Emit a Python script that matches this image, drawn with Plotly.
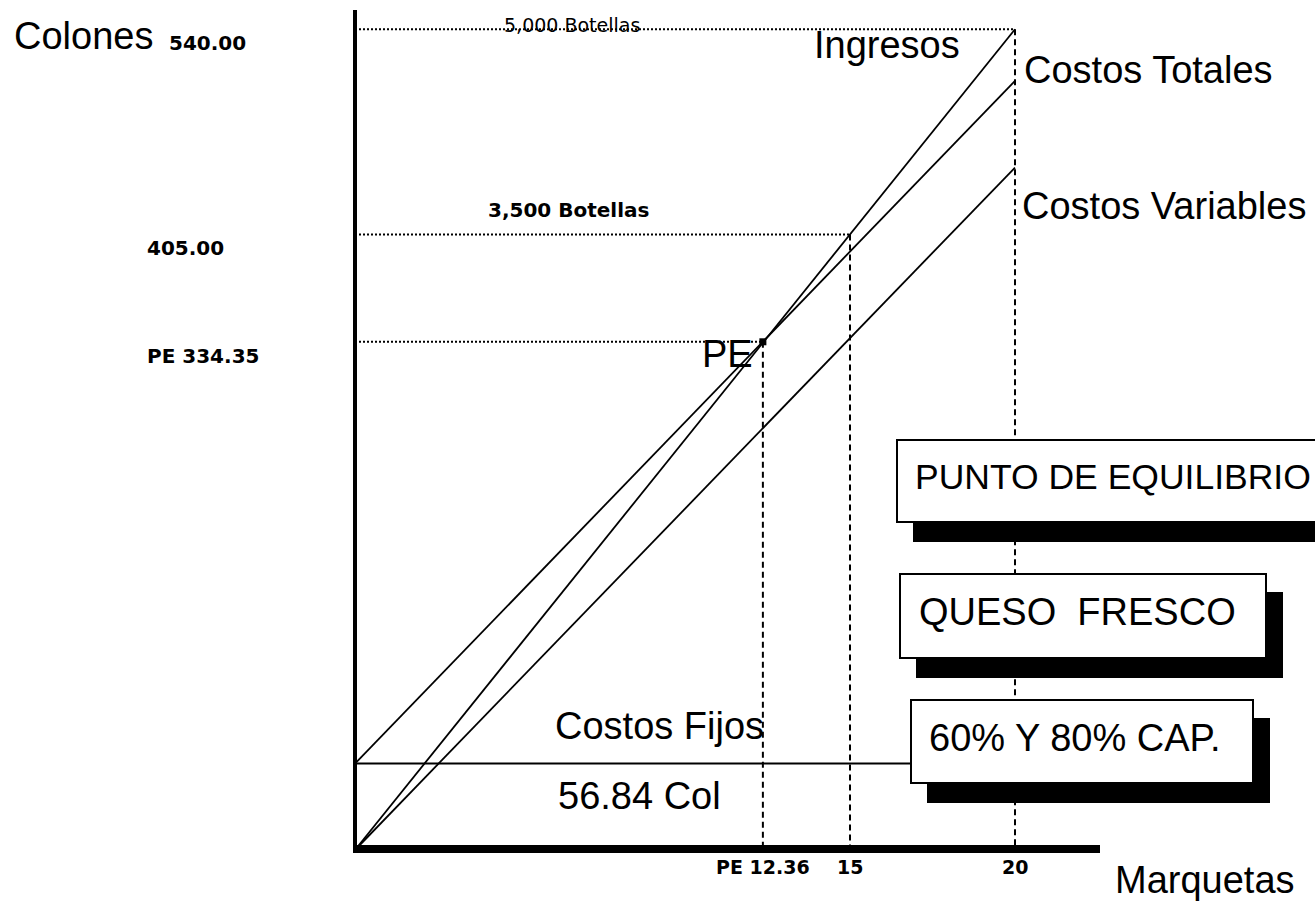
import plotly.graph_objects as go

# ---- data: break-even chart for "queso fresco" ----
marquetas = [0, 20]                 # production range (marquetas)
ingresos = [0, 540.00]              # revenue (colones)
costos_totales = [56.84, 506.00]    # total cost (colones)
costos_variables = [0, 449.00]      # variable cost (colones)
costos_fijos = 56.84                # fixed cost (colones)

pe_marquetas = 12.36
pe_colones = 334.35

x_marks = [12.36, 15, 20]
x_mark_labels = ["PE 12.36", "15", "20"]
y_marks = [334.35, 405.00, 540.00]
y_mark_labels = ["PE 334.35", "405.00", "540.00"]
botellas_levels = [540.00, 405.00]
botellas_labels = ["5,000 Botellas", "3,500 Botellas"]

# ---- page geometry ----
W, H = 1315, 909
OX, OY = 355, 850          # page position of the origin
KX, KY = 33.0, 1.52        # pixels per marqueta / per colon


def dx(px):
    return (px - OX) / KX


def dy(py):
    return (OY - py) / KY


def pxp(px):
    return px / W


def pyp(py):
    return 1 - py / H


BIG = dict(family="Liberation Sans, Arial, sans-serif", size=38, color="black")
SMALL = dict(family="DejaVu Sans, Verdana, sans-serif", size=20, color="black", weight="bold")
TICK = dict(family="DejaVu Sans, Verdana, sans-serif", size=19, color="black", weight="bold")
NOTE = dict(family="DejaVu Sans, Verdana, sans-serif", size=19, color="black")

fig = go.Figure()

# guide lines: dotted level from the axis, dashed drop to the axis
for xm, ym in zip(x_marks, y_marks):
    fig.add_trace(go.Scatter(x=[0, xm], y=[ym, ym], mode="lines",
                             line=dict(color="black", width=2, dash="2px,2px"),
                             hoverinfo="skip"))
    fig.add_trace(go.Scatter(x=[xm, xm], y=[ym, 0], mode="lines",
                             line=dict(color="black", width=2, dash="6px,4px"),
                             hoverinfo="skip"))

# fixed cost line runs to the caption boxes
fig.add_trace(go.Scatter(x=[0, dx(911)], y=[costos_fijos, costos_fijos], mode="lines",
                         line=dict(color="black", width=2), hoverinfo="skip"))

for ys in (ingresos, costos_totales, costos_variables):
    fig.add_trace(go.Scatter(x=marquetas, y=ys, mode="lines",
                             line=dict(color="black", width=1.8), hoverinfo="skip"))

# break-even marker
fig.add_trace(go.Scatter(x=[pe_marquetas], y=[pe_colones], mode="markers",
                         marker=dict(symbol="square", size=7, color="black"),
                         hoverinfo="skip"))

shapes = []
# axes
shapes.append(dict(type="line", xref="x", yref="y", x0=0, x1=0, y0=dy(853), y1=dy(10),
                   line=dict(color="black", width=4)))
shapes.append(dict(type="line", xref="x", yref="y", x0=dx(353), x1=dx(1100), y0=dy(849), y1=dy(849),
                   line=dict(color="black", width=8)))

# caption boxes with drop shadows
boxes = [
    ("PUNTO DE EQUILIBRIO", 897, 440, 1345, 522, 913, 35.5),
    ("QUESO  FRESCO", 900, 574, 1266, 658, 917, 38),
    ("60% Y 80% CAP.", 911, 700, 1253, 783, 927, 38),
]
annotations = []
for text, x0, y0, x1, y1, tx, fs in boxes:
    shapes.append(dict(type="rect", xref="paper", yref="paper",
                       x0=pxp(x0 + 16), x1=pxp(x1 + 17), y0=pyp(y0 + 18), y1=pyp(y1 + 20),
                       fillcolor="black", line=dict(width=0)))
    shapes.append(dict(type="rect", xref="paper", yref="paper",
                       x0=pxp(x0), x1=pxp(x1), y0=pyp(y0), y1=pyp(y1),
                       fillcolor="white", line=dict(color="black", width=2)))
    annotations.append(dict(text=text, xref="paper", yref="paper", x=pxp(tx), y=pyp((y0 + y1) / 2 - 4),
                            xanchor="left", yanchor="middle", showarrow=False,
                            font=dict(BIG, size=fs)))


def label(text, x, y, font=BIG, xanchor="left", xref="paper", yref="paper", **kw):
    annotations.append(dict(text=text, x=x, y=y, xref=xref, yref=yref, xanchor=xanchor,
                            yanchor="middle", showarrow=False, font=font, **kw))


# axis titles
label("Colones", pxp(12), pyp(36))
label("Marquetas", pxp(1113), pyp(880))

# value labels on the colones axis
y_label_left = {"540.00": 167, "405.00": 145, "PE 334.35": 145}
for ym, txt in zip(y_marks, y_mark_labels):
    label(txt, pxp(y_label_left[txt]), ym, font=SMALL, yref="y", yshift=-14)

# value labels on the marquetas axis
for xm, txt in zip(x_marks, x_mark_labels):
    label(txt, xm, pyp(867), font=TICK, xanchor="center", xref="x")

# bottle counts on the dotted levels
label(botellas_labels[0], pxp(572), botellas_levels[0], font=NOTE, xanchor="center", yref="y", yshift=4)
label(botellas_labels[1], pxp(568), botellas_levels[1], font=SMALL, xanchor="center", yref="y", yshift=24)

# line names
label("Ingresos", pxp(812), pyp(45))
label("Costos Totales", pxp(1022), pyp(70))
label("Costos Variables", pxp(1020), pyp(206))
label("PE", pe_marquetas, pe_colones, xanchor="right", xref="x", yref="y", xshift=-8, yshift=-12)
label("Costos Fijos", pxp(553), costos_fijos, yref="y", yshift=38)
label("56.84 Col", pxp(556), costos_fijos, yref="y", yshift=-32)

fig.update_layout(
    width=W, height=H,
    margin=dict(l=0, r=0, t=0, b=0),
    paper_bgcolor="white", plot_bgcolor="white",
    showlegend=False,
    xaxis=dict(range=[-OX / KX, (W - OX) / KX], visible=False, fixedrange=True),
    yaxis=dict(range=[-(H - OY) / KY, OY / KY], visible=False, fixedrange=True),
    shapes=shapes,
    annotations=annotations,
)

fig.write_html("out.html")
